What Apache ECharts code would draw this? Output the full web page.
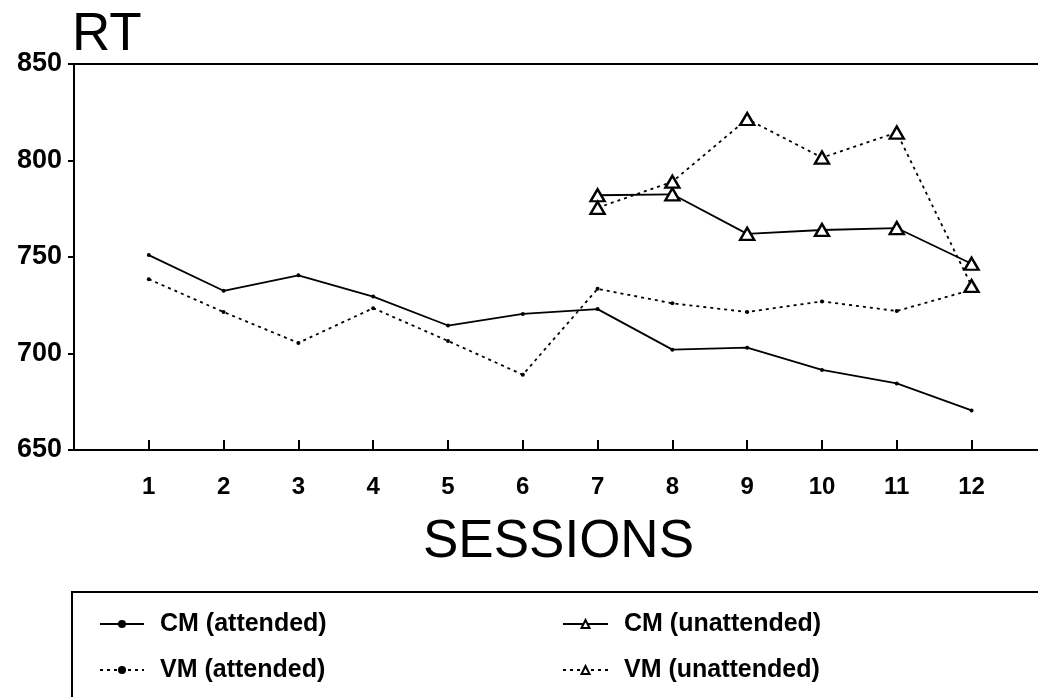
<!DOCTYPE html>
<html>
<head>
<meta charset="utf-8">
<script src="https://cdn.jsdelivr.net/npm/echarts@6/dist/echarts.min.js"></script>
<style>
  html, body { margin: 0; padding: 0; background: #fff; }
  #main { width: 1038px; height: 697px; }
</style>
</head>
<body>
<div id="main"></div>
<script type="text/javascript">
    var sessions = [1, 2, 3, 4, 5, 6, 7, 8, 9, 10, 11, 12]
    var unattSessions = [7, 8, 9, 10, 11, 12]
    var cmAttended = [751, 732.5, 740.5, 729.5, 714.5, 720.5, 723, 702, 703, 691.5, 684.5, 670.5]
    var vmAttended = [738.5, 721.5, 705.5, 723.5, 706.5, 689, 733.5, 726, 721.5, 727, 722, 733]
    var cmUnattended = [782, 782.5, 762, 764, 765, 746.5]
    var vmUnattended = [775.5, 789, 821.5, 801.5, 814.5, 735]
    var yTicks = [650, 700, 750, 800, 850]

    var FONT = '"Liberation Sans", Arial, Helvetica, sans-serif'

    function pairs(xs, ys){
        var out = []
        for(var i=0; i < xs.length; i++){
            out.push([xs[i], ys[i]])
        }
        return out
    }

    var myChart = echarts.init(document.getElementById('main'), null, {renderer: 'canvas'});

    var attendedStyle = {
        symbol: 'circle',
        symbolSize: 4,
        itemStyle: {color: '#000'}
    }
    var unattendedStyle = {
        symbol: 'triangle',
        symbolSize: [14, 12],
        itemStyle: {color: '#fff', borderColor: '#000', borderWidth: 2.4}
    }

    var legendText = {
        fontFamily: FONT,
        fontWeight: 'bold',
        fontSize: 25,
        color: '#000',
        lineHeight: 30,
        padding: [0, 0, 0, 11]
    }

    var myOption = {
        animation: false,
        backgroundColor: '#fff',
        grid: {
            left: 74,
            top: 64,
            right: -5,
            bottom: 247,
            show: true,
            borderColor: '#000',
            borderWidth: 2,
            containLabel: false,
            outerBoundsMode: 'none'
        },
        xAxis: {
            type: 'value',
            min: 0,
            max: 12.955,
            name: 'SESSIONS',
            nameLocation: 'middle',
            nameGap: 66,
            nameTextStyle: {fontFamily: FONT, fontSize: 53, color: '#000'},
            axisLine: {show: true, lineStyle: {color: '#000', width: 2}},
            axisTick: {show: true, inside: true, length: 10, customValues: sessions,
                       lineStyle: {color: '#000', width: 2}},
            axisLabel: {show: true, customValues: sessions, margin: 25,
                        fontFamily: FONT, fontWeight: 'bold', fontSize: 24, color: '#000'},
            splitLine: {show: false}
        },
        yAxis: {
            type: 'value',
            min: yTicks[0],
            max: yTicks[yTicks.length - 1],
            interval: 50,
            axisLine: {show: true, lineStyle: {color: '#000', width: 2}},
            axisTick: {show: true, inside: false, length: 6, lineStyle: {color: '#000', width: 2}},
            axisLabel: {show: true, margin: 12,
                        fontFamily: FONT, fontWeight: 'bold', fontSize: 27, color: '#000'},
            splitLine: {show: false}
        },
        legend: [
            {
                orient: 'vertical',
                left: 94,
                top: 604,
                itemWidth: 44,
                itemHeight: 10,
                itemGap: 16,
                data: ['CM (attended)', 'VM (attended)'],
                textStyle: legendText
            },
            {
                orient: 'vertical',
                left: 557,
                top: 604,
                itemWidth: 45,
                itemHeight: 10,
                itemGap: 16,
                data: ['CM (unattended)', 'VM (unattended)'],
                textStyle: legendText
            }
        ],
        graphic: [
            {
                type: 'text',
                left: 72,
                top: 9,
                style: {text: 'RT', font: '53px ' + FONT, fill: '#000'}
            },
            {
                type: 'rect',
                shape: {x: 72, y: 592, width: 1100, height: 200},
                style: {fill: 'none', stroke: '#000', lineWidth: 2}
            }
        ],
        series: [
            Object.assign({
                name: 'CM (attended)',
                type: 'line',
                data: pairs(sessions, cmAttended),
                lineStyle: {color: '#000', width: 1.8, type: 'solid'},
                z: 2
            }, attendedStyle),
            Object.assign({
                name: 'VM (attended)',
                type: 'line',
                data: pairs(sessions, vmAttended),
                lineStyle: {color: '#000', width: 1.8, type: [3, 4]},
                z: 2
            }, attendedStyle),
            Object.assign({
                name: 'CM (unattended)',
                type: 'line',
                data: pairs(unattSessions, cmUnattended),
                lineStyle: {color: '#000', width: 1.8, type: 'solid'},
                z: 3
            }, unattendedStyle),
            Object.assign({
                name: 'VM (unattended)',
                type: 'line',
                data: pairs(unattSessions, vmUnattended),
                lineStyle: {color: '#000', width: 1.8, type: [3, 4]},
                z: 3
            }, unattendedStyle)
        ]
    };

    myChart.setOption(myOption);
</script>
</body>
</html>
